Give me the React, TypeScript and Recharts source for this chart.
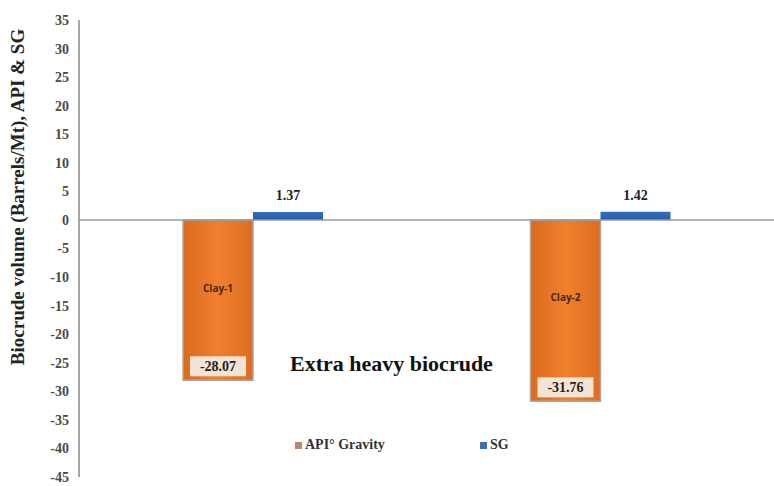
import React from 'react';
import { BarChart, Bar, XAxis, YAxis, ReferenceLine, LabelList, Legend } from 'recharts';

const categories = ['Clay-1', 'Clay-2'];
const apiGravity = [-28.07, -31.76];
const sgValues = [1.37, 1.42];
const yTicks = [35, 30, 25, 20, 15, 10, 5, 0, -5, -10, -15, -20, -25, -30, -35, -40, -45];

const data = categories.map((c, i) => ({ name: c, api: apiGravity[i], sg: sgValues[i] }));

const serif = '"Liberation Serif", "DejaVu Serif", serif';

const ApiLabel = (props: any) => {
  const { x, y, width, height, value, index } = props;
  const top = Math.min(y, y + height);
  const h = Math.abs(height);
  const cx = x + width / 2;
  const txt = Number(value).toFixed(2);
  return (
    <g>
      <text x={cx} y={top + h * 0.43} textAnchor="middle" dominantBaseline="middle"
        fontFamily='"Open Sans", sans-serif' fontSize={10} fontWeight="bold" fill="#4a2a10">
        {categories[index]}
      </text>
      <rect x={cx - 28} y={top + h - 24} width={56} height={20} fill="#f4efe8" opacity={0.9} />
      <text x={cx} y={top + h - 13} textAnchor="middle" dominantBaseline="middle"
        fontFamily={serif} fontSize={14} fontWeight="bold" fill="#222">
        {txt}
      </text>
    </g>
  );
};

const SgLabel = (props: any) => {
  const { x, y, width, value } = props;
  return (
    <text x={x + width / 2} y={y - 12} textAnchor="middle"
      fontFamily={serif} fontSize={14} fontWeight="bold" fill="#222">
      {Number(value).toFixed(2)}
    </text>
  );
};

const YLabel = () => {
  const cx = 20;
  const cy = 197;
  return (
    <text x={cx} y={cy} transform={`rotate(-90, ${cx}, ${cy})`} textAnchor="middle" dominantBaseline="middle"
      fontFamily={serif} fontSize={19} fontWeight="bold" fill="#222">
      Biocrude volume (Barrels/Mt), API &amp; SG
    </text>
  );
};

const CustomLegend = () => (
  <div style={{ display: 'flex', fontFamily: serif, fontSize: 14, fontWeight: 'bold', color: '#333' }}>
    <div style={{ position: 'absolute', left: 295, display: 'flex', alignItems: 'center' }}>
      <span style={{ width: 7, height: 7, background: '#b98a6a', display: 'inline-block', marginRight: 3 }} />
      API° Gravity
    </div>
    <div style={{ position: 'absolute', left: 480, display: 'flex', alignItems: 'center' }}>
      <span style={{ width: 7, height: 7, background: '#3a6fb5', display: 'inline-block', marginRight: 3 }} />
      SG
    </div>
  </div>
);

export default function App() {
  return (
    <div style={{ position: 'absolute', left: 0, top: 0, width: 774, height: 486, background: '#fff' }}>
      <BarChart width={774} height={486} data={data} margin={{ top: 20, right: 0, left: 0, bottom: 9 }}
        barGap={0} barSize={70}>
        <defs>
          <linearGradient id="orangeGrad" x1="0" y1="0" x2="1" y2="0">
            <stop offset="0%" stopColor="#dc6a1e" />
            <stop offset="50%" stopColor="#f07f2e" />
            <stop offset="100%" stopColor="#de6c20" />
          </linearGradient>
          <linearGradient id="blueGrad" x1="0" y1="0" x2="0" y2="1">
            <stop offset="0%" stopColor="#2f6cc4" />
            <stop offset="100%" stopColor="#2a5ea8" />
          </linearGradient>
        </defs>
        <XAxis dataKey="name" hide />
        <YAxis domain={[-45, 35]} ticks={yTicks} interval={0} width={79} tickLine={false} tickSize={0} tickMargin={10}
          axisLine={{ stroke: '#8a8a8a', strokeWidth: 1.5 }}
          tick={{ fontFamily: serif, fontSize: 14, fontWeight: 'bold', fill: '#4a4a4a' }}
          label={<YLabel />} />
        <ReferenceLine y={0} stroke="#9a9a9a" strokeWidth={1.5} ifOverflow="extendDomain" />
        <Legend verticalAlign="bottom" content={<CustomLegend />} wrapperStyle={{ position: 'absolute', top: 437, left: 0, width: 774 }} />
        <Bar dataKey="api" name="API° Gravity" fill="url(#orangeGrad)" stroke="#b0a8a0" strokeWidth={1.5} isAnimationActive={false}>
          <LabelList dataKey="api" content={<ApiLabel />} />
        </Bar>
        <Bar dataKey="sg" name="SG" fill="url(#blueGrad)" isAnimationActive={false}>
          <LabelList dataKey="sg" content={<SgLabel />} />
        </Bar>
      </BarChart>
      <div style={{ position: 'absolute', left: 290, top: 351, fontFamily: serif, fontSize: 22, fontWeight: 'bold', color: '#111', whiteSpace: 'nowrap' }}>
        Extra heavy biocrude
      </div>
    </div>
  );
}
